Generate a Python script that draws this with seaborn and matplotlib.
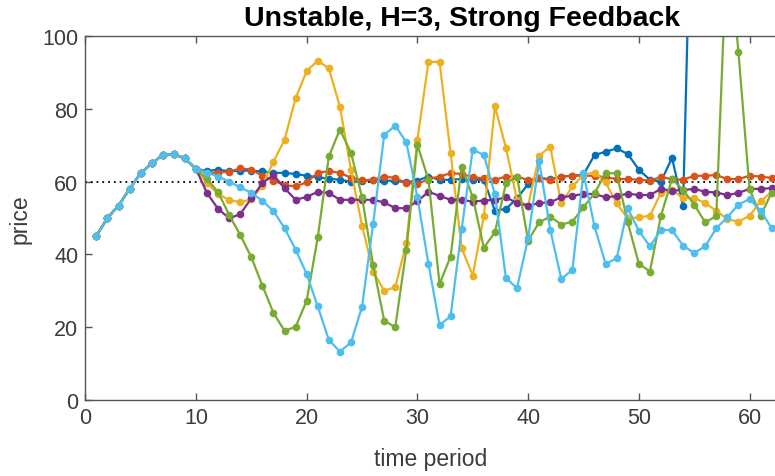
import numpy as np
import pandas as pd
import matplotlib
matplotlib.use("Agg")
import matplotlib.pyplot as plt
import seaborn as sns

# shared start (t = 1..10)
warmup = [45.1, 50.0, 53.4, 58.0, 62.3, 65.0, 67.3, 67.5, 66.4, 63.5]

# each run, t = 11..62
run_blue = [62.9, 63.3, 62.8, 63.0, 63.0, 62.8, 62.4, 62.4, 62.1, 61.6,
            61.2, 60.8, 60.5, 60.0, 60.1, 60.5, 60.3, 60.2, 59.8, 60.3,
            61.4, 60.5, 60.5, 60.7, 60.5, 60.5, 52.0, 52.5, 55.4, 59.3,
            61.0, 60.7, 61.4, 61.6, 61.9, 67.3, 68.2, 69.1, 67.6, 63.3,
            60.5, 60.0, 66.5, 53.2, 174.0, 290.0, 420.0, 560.0, 700.0, 850.0,
            1000.0, 1150.0]
run_red = [62.3, 62.5, 62.7, 63.6, 63.3, 61.6, 60.3, 59.0, 58.7, 59.8,
           62.4, 62.9, 62.4, 61.1, 60.4, 60.5, 61.4, 61.0, 59.6, 59.3,
           60.7, 61.4, 62.3, 62.1, 61.2, 60.9, 60.5, 61.4, 61.4, 60.4,
           61.0, 60.4, 61.4, 61.6, 61.6, 61.6, 61.2, 60.7, 60.7, 60.5,
           60.3, 61.2, 60.7, 60.5, 61.6, 61.6, 61.8, 60.7, 60.7, 61.6,
           61.4, 61.0]
run_yellow = [59.5, 56.6, 54.9, 54.4, 55.1, 58.9, 65.5, 71.5, 82.9, 90.4,
              93.2, 91.1, 80.6, 63.2, 47.9, 35.3, 30.0, 31.0, 43.1, 71.5,
              92.9, 92.9, 67.8, 41.7, 34.2, 50.5, 80.7, 69.3, 54.9, 53.4,
              67.1, 69.6, 54.0, 58.7, 61.9, 62.5, 59.8, 54.0, 49.9, 50.2,
              50.6, 56.9, 57.7, 55.5, 55.5, 54.1, 52.0, 49.7, 49.0, 50.6,
              54.6, 57.2]
run_purple = [56.8, 52.5, 49.9, 51.1, 55.4, 59.6, 61.8, 58.2, 55.0, 55.8,
              57.2, 56.9, 55.0, 55.0, 55.0, 55.0, 54.3, 52.7, 52.7, 54.6,
              57.2, 56.1, 55.0, 55.0, 54.5, 54.8, 55.0, 55.7, 54.1, 53.4,
              54.1, 54.3, 55.7, 56.1, 56.6, 56.6, 55.7, 56.0, 56.7, 56.3,
              56.3, 58.0, 57.5, 57.7, 58.0, 57.2, 57.0, 56.3, 56.9, 58.0,
              58.0, 58.2]
run_green = [60.7, 57.1, 50.8, 45.3, 39.2, 31.4, 23.9, 19.0, 20.1, 27.3,
             44.7, 66.9, 74.3, 67.9, 55.7, 37.1, 21.8, 20.0, 41.3, 70.1,
             60.5, 31.9, 39.4, 64.1, 55.7, 41.8, 46.1, 59.5, 61.4, 43.8,
             48.8, 50.4, 48.2, 49.0, 52.9, 56.8, 62.3, 62.3, 48.8, 37.5,
             35.3, 50.6, 60.7, 57.7, 53.7, 48.8, 50.5, 128.0, 95.7, 58.0,
             50.6, 57.0]
run_cyan = [62.5, 61.4, 60.0, 58.4, 56.9, 54.7, 51.9, 47.2, 41.3, 34.6,
            25.7, 16.5, 13.3, 15.8, 25.6, 48.4, 72.8, 75.4, 70.8, 55.7,
            37.4, 20.6, 23.0, 47.0, 68.8, 67.3, 56.6, 33.4, 30.8, 44.4,
            65.6, 46.8, 33.2, 35.8, 62.3, 47.7, 37.4, 38.9, 52.7, 46.5,
            42.2, 46.7, 46.7, 42.4, 40.4, 42.2, 47.2, 50.2, 53.7, 55.2,
            52.0, 47.2]

runs = [run_blue, run_red, run_yellow, run_purple, run_green, run_cyan]
colors = ['#0072BD', '#D95319', '#EDB120', '#7E2F8E', '#77AC30', '#4DBEEE']
equilibrium = 60

frames = []
for i, r in enumerate(runs):
    vals = warmup + r
    frames.append(pd.DataFrame({'t': np.arange(1, len(vals) + 1),
                                'price': vals, 'run': i}))
df = pd.concat(frames, ignore_index=True)

sns.set_theme(style='ticks')
plt.rcParams['font.family'] = ['Liberation Sans', 'DejaVu Sans']

fig = plt.figure(figsize=(7.75, 4.77), dpi=100)
ax = fig.add_axes([85.3 / 775, 1 - 401 / 477, (775 - 85.3) / 775, 364 / 477])

ax.axhline(equilibrium, color='black', linestyle=(0, (1, 2.2)), linewidth=1.3, zorder=1)

sns.lineplot(data=df, x='t', y='price', hue='run', palette=colors,
             marker='o', markersize=5.5, markeredgewidth=0, linewidth=1.6,
             legend=False, ax=ax, zorder=2)

ax.set_xlim(0, (775 - 85.3) / 11.07)
ax.set_ylim(0, 100)
ax.set_xticks([0, 10, 20, 30, 40, 50, 60])
ax.set_yticks([0, 20, 40, 60, 80, 100])

for side in ['left', 'bottom', 'top']:
    ax.spines[side].set_color('#555555')
    ax.spines[side].set_linewidth(1.0)
ax.spines['right'].set_visible(False)
ax.tick_params(direction='in', length=5, width=1.0, color='#555555',
               labelsize=15.5, labelcolor='#3c3c3c', top=True, pad=5)

ax.set_xlabel('time period', fontsize=16.5, color='#3c3c3c', labelpad=14)
ax.set_ylabel('price', fontsize=16.5, color='#3c3c3c', labelpad=8)
ax.set_title('Unstable, H=3, Strong Feedback', fontsize=20.5, fontweight='bold',
             color='black', pad=8, x=(462 - 85.3) / 689.7)

fig.savefig('out.png', dpi=100)
